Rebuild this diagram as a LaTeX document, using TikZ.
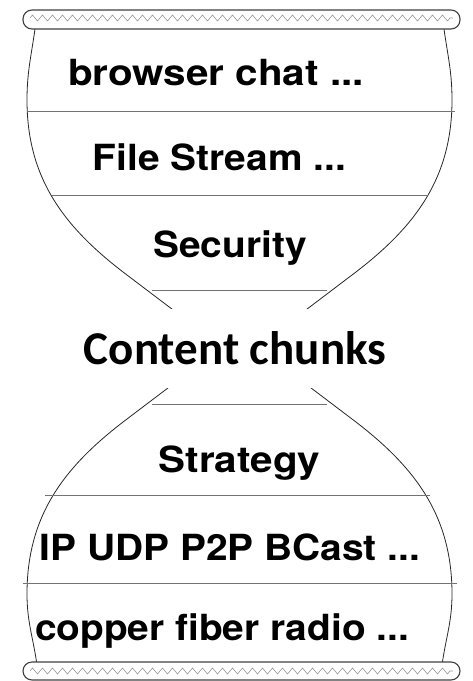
\documentclass[tikz,border=0pt]{standalone}
\usepackage{fontspec}
\setmainfont{TeX Gyre Heros}
\newfontfamily\chunkfont{Carlito}
\usetikzlibrary{decorations.pathmorphing}

\begin{document}
\begin{tikzpicture}[x=1pt,y=1pt,
    glass/.style={draw=black!85, line width=0.8pt},
    sep/.style={draw=black!55, line width=0.9pt},
    lid/.style={draw=black!75, fill=white, line width=1.1pt, rounded corners=9pt},
    wave/.style={draw=black!40, line width=0.6pt, decorate,
      decoration={zigzag, segment length=10pt, amplitude=3pt}},
    layer/.style={anchor=base, xscale=1.08, inner sep=0pt,
      font=\bfseries\fontsize{36}{40}\selectfont}]

  \useasboundingbox (0,0) rectangle (472,-681);

  % sides of the glass
  \draw[glass] (35,-29) to[out=-98,in=90] (27,-100) to[out=-90,in=143] (127,-275)
    -- (222,-347) -- (127,-419) to[out=-143,in=90] (27,-594) to[out=-90,in=98] (37,-665);
  \draw[glass] (444,-29) to[out=-82,in=90] (452,-100) to[out=-90,in=37] (352,-275)
    -- (257,-347) -- (352,-419) to[out=-37,in=90] (452,-594) to[out=-90,in=82] (442,-665);

  % layer borders
  \draw[sep] (27,-111) -- (455,-111);
  \draw[sep] (52,-195) -- (428,-195);
  \draw[sep] (152,-290) -- (327,-290);
  \draw[sep] (152,-404) -- (327,-404);
  \draw[sep] (45,-495) -- (430,-495);
  \draw[sep] (23,-583) -- (457,-583);

  % lids
  \draw[lid] (23,-10) rectangle (460,-29);
  \draw[wave] (30,-18) -- (453,-18);
  \draw[lid] (23,-662) rectangle (460,-680);
  \draw[wave] (30,-671) -- (453,-671);

  \begin{scope}[every node/.style={layer}]
    \node[xscale=1.04] (app) at (216,-85) {browser chat ...};
    \node (file)  at (219.5,-170) {File Stream ...};
    \node (sec)   at (230,-257)  {Security};
    \node[xscale=1.04] (strat) at (239.5,-472) {Strategy};
    \node (net)   at (230,-560)  {IP UDP P2P BCast ...};
    \node (phys)  at (222,-640)  {copper fiber radio ...};
  \end{scope}

  \node[fill=white, minimum height=79pt, inner xsep=4pt,
    font=\chunkfont\bfseries\fontsize{47}{50}\selectfont] (chunks) at (235,-348.5) {Content chunks};

\end{tikzpicture}
\end{document}
